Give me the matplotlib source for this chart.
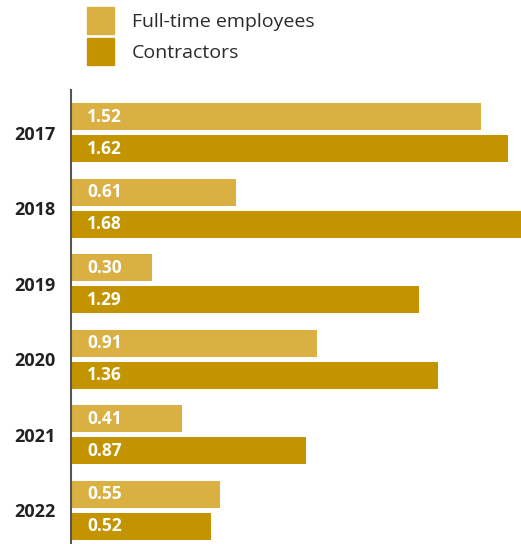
import matplotlib
matplotlib.use('Agg')
from matplotlib import pyplot as plt
from matplotlib.patches import Patch
import numpy as np

years = ['2017', '2018', '2019', '2020', '2021', '2022']
full_time = [1.52, 0.61, 0.30, 0.91, 0.41, 0.55]
contractors = [1.62, 1.68, 1.29, 1.36, 0.87, 0.52]
series_names = ['Full-time employees', 'Contractors']

c_light = '#DAB042'
c_dark = '#C49400'

plt.rcParams['font.family'] = ['Open Sans', 'DejaVu Sans']

fig = plt.figure(figsize=(5.21, 5.44), dpi=100)
ax = fig.add_axes([71 / 521, 0, 450 / 521, 454 / 544])

y = np.arange(len(years))
off = 0.213
h = 0.36
ax.barh(y - off, full_time, height=h, color=c_light)
ax.barh(y + off, contractors, height=h, color=c_dark)

for i in range(len(years)):
    ax.text(0.06, y[i] - off, '%.2f' % full_time[i], color='white', fontsize=12.5,
            fontweight='bold', va='center', ha='left')
    ax.text(0.06, y[i] + off, '%.2f' % contractors[i], color='white', fontsize=12.5,
            fontweight='bold', va='center', ha='left')

ax.set_xlim(0, 450 / 270)
ax.set_ylim(5.446, -0.566)
ax.set_yticks(y)
ax.set_yticklabels(years, fontsize=13, fontweight='bold', color='#222222')
ax.tick_params(axis='y', length=0, pad=11)
ax.set_xticks([])
for s in ['top', 'right', 'bottom']:
    ax.spines[s].set_visible(False)
ax.spines['left'].set_color('#555555')
ax.spines['left'].set_linewidth(1.5)

handles = [Patch(color=c_light), Patch(color=c_dark)]
fig.legend(handles, series_names, loc='upper left',
           bbox_to_anchor=(87 / 521, 1 - 7 / 544),
           frameon=False, fontsize=14, handlelength=1.39, handleheight=1.76,
           labelspacing=0.21, handletextpad=0.93, borderaxespad=0, borderpad=0,
           labelcolor='#2a2a2a')

plt.savefig('out.png', dpi=100)
